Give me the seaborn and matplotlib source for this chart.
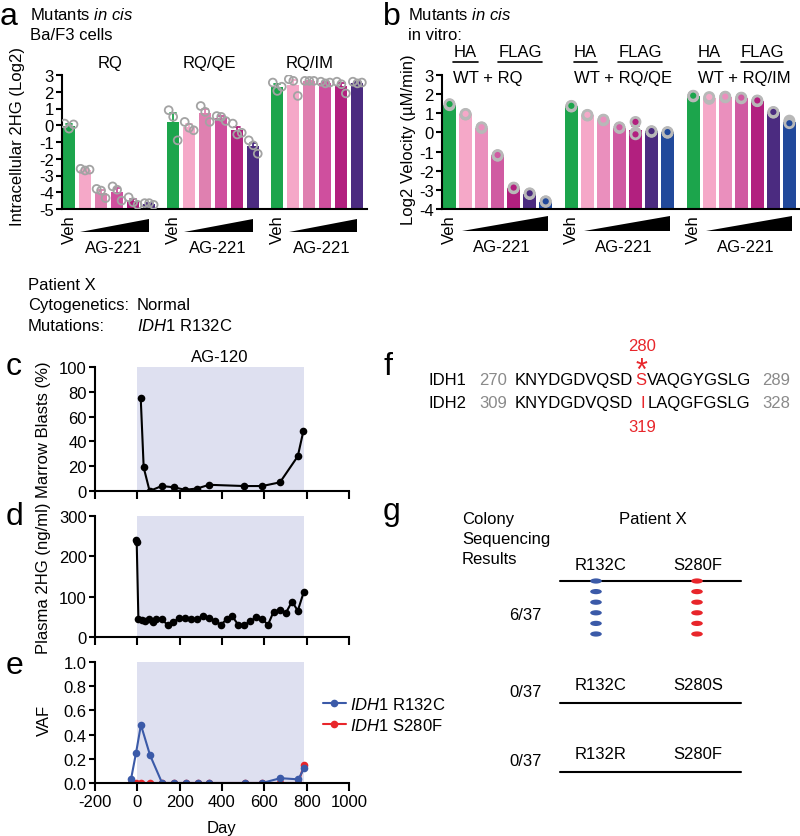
import numpy as np
import pandas as pd
import seaborn as sns
import matplotlib.pyplot as plt
from matplotlib.path import Path
from matplotlib.transforms import Affine2D
from matplotlib.ticker import FuncFormatter

# ---- panel a: intracellular 2HG (log2) in Ba/F3 cells, 3 replicates per bar
a_groups = ['RQ', 'RQ/QE', 'RQ/IM']
a_rq = [[0.1, -0.2, 0.05], [-2.6, -2.7, -2.65], [-3.8, -3.9, -4.35],
        [-3.65, -3.85, -4.5], [-4.3, -4.6, -4.75], [-4.65, -4.65, -4.75]]
a_rq_qe = [[0.9, 0.5, -0.9], [0.2, -0.15, -0.3], [1.15, 0.8, 0.2],
           [0.55, 0.5, 0.25], [0.1, -0.55, -0.45], [-0.9, -1.2, -1.7]]
a_rq_im = [[2.55, 2.05, 2.3], [2.75, 2.65, 1.75], [2.65, 2.65, 2.65],
           [2.6, 2.5, 2.55], [2.6, 2.45, 1.9], [2.6, 2.5, 2.55]]
a_colors = ['#1ca54c', '#f5a8c8', '#df80b0', '#cf4f9e', '#b2207f', '#4b2b80']

# ---- panel b: log2 velocity in vitro (HA-WT + FLAG-mutant)
b_groups = ['WT + RQ', 'WT + RQ/QE', 'WT + RQ/IM']
b_wt_rq = [[1.42, 1.45, 1.48], [0.93, 0.95, 0.97], [0.23, 0.25, 0.27], [-1.22, -1.2, -1.18],
           [-2.92, -2.9, -2.88], [-3.22, -3.2, -3.18], [-3.63, -3.6, -3.6]]
b_wt_rq_qe = [[1.35, 1.37, 1.39], [0.88, 0.9, 0.92], [0.63, 0.65, 0.67], [0.23, 0.25, 0.27],
              [0.55, 0.0, -0.1], [0.03, 0.05, 0.07], [-0.02, 0.0, 0.02]]
b_wt_rq_im = [[1.88, 1.9, 1.92], [1.75, 1.8, 1.85], [1.83, 1.85, 1.87], [1.78, 1.8, 1.82],
              [1.63, 1.65, 1.67], [1.03, 1.05, 1.07], [0.62, 0.55, 0.48]]
b_colors = ['#1ca54c', '#f5a8c8', '#ea8fbd', '#d05ba2', '#b2207f', '#4b2b80', '#21499b']

# ---- panels c-e: patient X time course
blast_day = [16, 30, 58, 115, 172, 225, 282, 339, 505, 590, 674, 758, 784]
blast_pct = [75, 19, 0, 4, 3, 1, 2, 5, 4, 4, 7, 28, 48]

hg_day = [-6, -3, 5, 21, 36, 57, 72, 88, 115, 143, 170, 198, 227, 255, 283, 312, 340,
          368, 394, 422, 449, 477, 505, 534, 561, 590, 617, 644, 674, 702, 731, 758, 786]
hg_val = [240, 235, 45, 41, 39, 45, 37, 45, 44, 30, 37, 47, 47, 44, 44, 53, 47,
          40, 30, 44, 51, 30, 30, 39, 49, 45, 30, 63, 66, 60, 88, 65, 111]

vaf_day = [-30, -6, 17, 60, 117, 172, 228, 285, 340, 507, 590, 676, 761, 787]
vaf_r132c = [0.03, 0.25, 0.48, 0.23, 0, 0, 0, 0, 0, 0, 0, 0.04, 0.03, 0.12]
vaf_s280f = [0, 0, 0, 0, 0, 0, 0, 0, 0, 0, 0, 0, 0, 0.15]
treat_start, treat_end = 0, 786

# ---- panel g: colony sequencing
colony_total = 37
colony_counts = [6, 0, 0]
allele_132 = ['R132C', 'R132C', 'R132R']
allele_280 = ['S280F', 'S280S', 'S280F']

W, H = 800, 837
RED = '#e8262b'
BLUE = '#3b5aa8'
GREY = '#8a8a8a'
SHADE = '#dee0f0'

sns.set_theme(style='ticks')
plt.rcParams['font.family'] = ['Liberation Sans', 'DejaVu Sans']
plt.rcParams.update({
    'font.size': 12, 'xtick.labelsize': 12, 'ytick.labelsize': 12,
    'axes.linewidth': 1.5, 'xtick.major.width': 1.5, 'ytick.major.width': 1.5,
    'xtick.major.size': 5, 'ytick.major.size': 4, 'xtick.major.pad': 2, 'ytick.major.pad': 2,
    'axes.edgecolor': 'black', 'xtick.color': 'black', 'ytick.color': 'black',
    'text.color': 'black', 'axes.labelcolor': 'black', 'axes.unicode_minus': False,
    'mathtext.fontset': 'custom', 'mathtext.rm': 'Liberation Sans',
    'mathtext.it': 'Liberation Sans:italic',
})


def box(l, t, r, b):
    return [l / W, 1 - b / H, (r - l) / W, (b - t) / H]


def long_table(series, step, base, spread):
    rows = []
    for g, vals in enumerate(series):
        for i, reps in enumerate(vals):
            for r, v in enumerate(reps):
                rows.append({'group': g, 'dose': f'd{i}', 'rep': r, 'pos': g * step + i,
                             'value': v})
    df = pd.DataFrame(rows)
    df['h'] = df['value'] - base          # Prism-style bars start at the axis floor
    df['px'] = df['pos'] + (df['rep'] - 1) * spread
    return df


def bars(ax, df, colors, width, base, top):
    pal = dict(zip(sorted(df['dose'].unique()), colors))
    sns.barplot(data=df, x='pos', y='h', hue='dose', palette=pal, native_scale=True,
                dodge=False, width=width, saturation=1, linewidth=0, errorbar='se',
                capsize=0.4, err_kws={'linewidth': 1.3}, legend=False, ax=ax)
    # colour each error bar like its bar
    for line in ax.lines:
        xm = np.nanmean(line.get_xdata())
        bar = min(ax.patches, key=lambda p: abs(p.get_x() + p.get_width() / 2 - xm))
        line.set_color(bar.get_facecolor())
    ax.set_ylim(0, top - base)
    ax.set_yticks(np.arange(0, top - base + 1))
    ax.yaxis.set_major_formatter(FuncFormatter(lambda v, _: f'{v + base:.0f}'))
    ax.set_xticks([])
    ax.set_xlabel('')
    ax.set_ylabel('')
    sns.despine(ax=ax)
    return pal


def dose_labels(ax, starts, w0, w1, px_top, px_bot, y_veh, y_wb, y_wt, y_ag, ag_pos):
    tr = ax.get_xaxis_transform()
    f = lambda y: (px_bot - y) / (px_bot - px_top)
    for g in starts:
        ax.text(g, f(y_veh), 'Veh', rotation=90, ha='center', va='center', transform=tr)
        ax.fill([g + w0, g + w1, g + w1], [f(y_wb), f(y_wb), f(y_wt)], color='black',
                lw=0, transform=tr, clip_on=False)
        ax.text(g + ag_pos, f(y_ag), 'AG-221', ha='center', va='baseline', transform=tr)


fig = plt.figure(figsize=(W / 100, H / 100), dpi=100)

# ---------------- a
a_step, a_base, a_top = 6.5, -5, 3
ax_a = fig.add_axes(box(62, 76, 367, 210))
df_a = long_table([a_rq, a_rq_qe, a_rq_im], a_step, a_base, 0.28)
bars(ax_a, df_a, a_colors, 0.75, a_base, a_top)
sns.scatterplot(data=df_a, x='px', y='h', marker='o', s=32, facecolor='none',
                edgecolor='0.64', linewidth=1.3, legend=False, ax=ax_a, zorder=5)
ax_a.set_xlim(-0.44, 18.6)
ax_a.set_xlabel('')
ax_a.set_ylabel('')
dose_labels(ax_a, [g * a_step for g in range(3)], 0.7, 5.0, 76, 210, 230, 233, 220, 253, 2.8)

# ---------------- b
b_step, b_base, b_top = 7.6, -4, 3
ax_b = fig.add_axes(box(442, 76, 799, 210))
df_b = long_table([b_wt_rq, b_wt_rq_qe, b_wt_rq_im], b_step, b_base, 0.0)
pal_b = bars(ax_b, df_b, b_colors, 0.8, b_base, b_top)
sns.scatterplot(data=df_b, x='px', y='h', hue='dose', palette=pal_b, marker='o', s=42,
                edgecolor='0.72', linewidth=2.0, legend=False, ax=ax_b, zorder=5)
ax_b.set_xlim(-0.47, 21.8)
ax_b.set_xlabel('')
ax_b.set_ylabel('')
dose_labels(ax_b, [g * b_step for g in range(3)], 0.8, 6.15, 76, 210, 230, 232, 217, 252, 3.25)

# ---------------- c, d, e
ax_c = fig.add_axes(box(95, 368, 349, 492))
ax_d = fig.add_axes(box(95, 517, 349, 638))
ax_e = fig.add_axes(box(95, 663, 349, 784))
line_kw = dict(marker='o', markersize=5.5, linewidth=1.5, markeredgewidth=0)

sns.lineplot(x=blast_day, y=blast_pct, color='black', ax=ax_c, **line_kw)
sns.lineplot(x=hg_day, y=hg_val, color='black', ax=ax_d, **line_kw)
sns.lineplot(x=vaf_day, y=vaf_s280f, color=RED, label=r'$\mathit{IDH1}$ S280F', ax=ax_e, **line_kw)
sns.lineplot(x=vaf_day, y=vaf_r132c, color=BLUE, label=r'$\mathit{IDH1}$ R132C', ax=ax_e, **line_kw)

for ax, top, ticks in [(ax_c, 100, np.arange(0, 101, 20)),
                       (ax_d, 300, np.arange(0, 301, 100)),
                       (ax_e, 1.0, np.arange(0, 1.01, 0.2))]:
    ax.axvspan(treat_start, treat_end, color=SHADE, lw=0, zorder=0)
    ax.set_xlim(-200, 1000)
    ax.set_xticks(np.arange(-200, 1001, 200))
    ax.set_ylim(0, top)
    ax.set_yticks(ticks)
    ax.tick_params(axis='x', length=6)
    ax.set_xlabel('')
    ax.set_ylabel('')
    sns.despine(ax=ax)
ax_c.tick_params(labelbottom=False)
ax_d.tick_params(labelbottom=False)
ax_e.yaxis.set_major_formatter(FuncFormatter(lambda v, _: f'{v:.1f}'))

hd, lb = ax_e.get_legend_handles_labels()
ax_e.legend(hd[::-1], lb[::-1], loc='upper left', bbox_to_anchor=(323 / W, 1 - 697 / H),
            bbox_transform=fig.transFigure, frameon=False, handlelength=1.35,
            handletextpad=0.25, labelspacing=0.3, borderaxespad=0, borderpad=0, fontsize=12)

# ---------------- overlay for free text, f and g
ov = fig.add_axes([0, 0, 1, 1])
ov.axis('off')


def t(x, y, s, **kw):
    kw.setdefault('va', 'baseline')
    ov.text(x, y, s, **kw)


# panel letters
for x, y, s in [(0, 25, 'a'), (383, 25, 'b'), (6, 375, 'c'), (6, 525, 'd'),
                (6, 674, 'e'), (383, 375, 'f'), (383, 520, 'g')]:
    t(x, y, s, fontsize=23)

# a header
t(30, 19.5, r'Mutants $\mathit{in\ cis}$')
t(30, 40, 'Ba/F3 cells')
for x, s in zip([110, 209, 310], a_groups):
    t(x, 68, s, ha='center')
t(18, 136, 'Intracellular 2HG (Log2)', rotation=90, ha='center', va='center')

# b header
t(408, 19.5, r'Mutants $\mathit{in\ cis}$')
t(408, 39.5, 'in vitro:')
for (ha0, ha1, fl0, fl1), s in zip([(453, 478, 498, 542), (574, 597, 618, 662),
                                    (698, 721, 741, 783)], b_groups):
    t((ha0 + ha1) / 2, 57, 'HA', ha='center')
    t((fl0 + fl1) / 2, 57, 'FLAG', ha='center')
    ov.plot([ha0, ha1], [62.5, 62.5], color='black', lw=1.2)
    ov.plot([fl0, fl1], [62.5, 62.5], color='black', lw=1.2)
    t(ha0, 83, s)
t(408, 140, 'Log2 Velocity (\u00b5M/min)', rotation=90, ha='center', va='center')

# patient block
t(28, 290, 'Patient X')
t(28, 310, 'Cytogenetics:')
t(137, 310, 'Normal')
t(28, 331, 'Mutations:')
t(137, 331, r'$\mathit{IDH1}$ R132C')
t(220, 362, 'AG-120', ha='center')
t(44, 430, 'Marrow Blasts (%)', rotation=90, ha='center', va='center')
t(44, 578, 'Plasma 2HG (ng/ml)', rotation=90, ha='center', va='center')
t(44, 720, 'VAF', rotation=90, ha='center', va='center')
t(222, 833, 'Day', ha='center')

# f: sequence alignment
t(642, 351, '280', ha='center', color=RED)
t(641, 380, '*', ha='center', color=RED, fontsize=22)
t(429, 385, 'IDH1')
t(479, 385, '270', color=GREY)
t(515, 385, 'KNYDGDVQSD')
t(641, 385, 'S', ha='center', color=RED)
t(647, 385, 'VAQGYGSLG')
t(762, 385, '289', color=GREY)
t(429, 408, 'IDH2')
t(479, 408, '309', color=GREY)
t(515, 408, 'KNYDGDVQSD')
t(643, 408, 'I', ha='center', color=RED)
t(648, 408, 'LAQGFGSLG')
t(762, 408, '328', color=GREY)
t(642, 432, '319', ha='center', color=RED)

# g: colony sequencing
t(462, 524, 'Colony')
t(462, 544, 'Sequencing')
t(462, 564, 'Results')
t(653, 524, 'Patient X', ha='center')
col_x = [601, 698]
row_line = [582, 704, 773]
row_label = [570, 690, 759]
row_count = [620, 697, 766]
for a1, a2, n, yl, yt, yc in zip(allele_132, allele_280, colony_counts, row_line, row_label, row_count):
    t(col_x[0], yt, a1, ha='center')
    t(col_x[1], yt, a2, ha='center')
    t(542, yc, f'{n}/{colony_total}', ha='right')
    ov.plot([560, 741], [yl, yl], color='black', lw=1.5, zorder=1)

n = colony_counts[0]
dots = pd.DataFrame({'allele': ['R132C'] * n + ['S280F'] * n, 'k': list(range(n)) * 2})
dots['x'] = dots['allele'].map({'R132C': 596, 'S280F': 697})
dots['y'] = row_line[0] + dots['k'] * 10.6
ellipse = Path.unit_circle().transformed(Affine2D().scale(1.0, 0.45))
sns.scatterplot(data=dots, x='x', y='y', hue='allele', palette={'R132C': BLUE, 'S280F': RED},
                marker=ellipse, s=70, linewidth=0, legend=False, ax=ov, zorder=3)

ov.set_xlim(0, W)
ov.set_ylim(H, 0)
ov.axis('off')

fig.savefig('out.png', dpi=100)
